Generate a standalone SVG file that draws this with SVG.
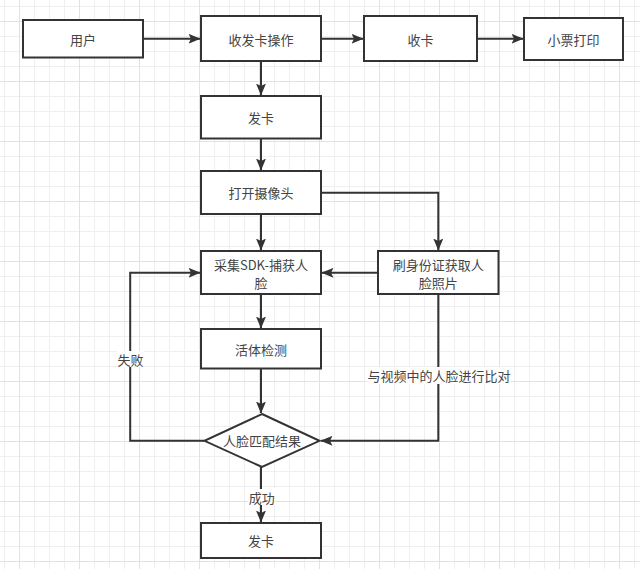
<svg xmlns="http://www.w3.org/2000/svg" width="640" height="569" viewBox="0 0 640 569">
<defs>
<pattern id="gMinor" patternUnits="userSpaceOnUse" x="4" y="6" width="15" height="15">
<path d="M0.5 0V15M0 0.5H15" stroke="#efefef" stroke-width="1" fill="none"/>
</pattern>
<pattern id="gMajor" patternUnits="userSpaceOnUse" x="19" y="21" width="60" height="60">
<path d="M0.5 0V60M0 0.5H60" stroke="#e2e2e2" stroke-width="1" fill="none"/>
</pattern>
<marker id="arr" viewBox="0 0 12 10" refX="11.5" refY="5" markerWidth="12" markerHeight="10" markerUnits="userSpaceOnUse" orient="auto">
<path d="M0 0L12 5L0 10L2.5 5Z" fill="#333"/>
</marker>
<style>
.box{fill:#fff;stroke:#333;stroke-width:2}
.t{font-family:"Microsoft YaHei","Noto Sans CJK SC","Noto Sans",sans-serif;font-size:13px;fill:#444;text-anchor:middle;dominant-baseline:central}
.c{fill:none;stroke:#333;stroke-width:2}
.lbg{fill:#fff}
</style>
</defs>
<rect x="0" y="0" width="640" height="569" fill="#fff"/>
<rect x="0" y="0" width="640" height="569" fill="url(#gMinor)"/>
<rect x="0" y="0" width="640" height="569" fill="url(#gMajor)"/>

<g id="connectors">
<path class="c" d="M143 38.8H200" marker-end="url(#arr)"/>
<path class="c" d="M321 38.8H363" marker-end="url(#arr)"/>
<path class="c" d="M477 38.8H523" marker-end="url(#arr)"/>
<path class="c" d="M261 61V95" marker-end="url(#arr)"/>
<path class="c" d="M261 138.5V170" marker-end="url(#arr)"/>
<path class="c" d="M261 214V250" marker-end="url(#arr)"/>
<path class="c" d="M321 192.8H438.3V250" marker-end="url(#arr)"/>
<path class="c" d="M378 272.8H322" marker-end="url(#arr)"/>
<path class="c" d="M261 294V328" marker-end="url(#arr)"/>
<path class="c" d="M261 368.5V413" marker-end="url(#arr)"/>
<path class="c" d="M438.3 294V440.8H321" marker-end="url(#arr)"/>
<path class="c" d="M204.5 440.8H130.2V272.8H200" marker-end="url(#arr)"/>
<path class="c" d="M261 467V522" marker-end="url(#arr)"/>
<rect class="lbg" x="117" y="351" width="27" height="16"/>
<text class="t" x="130.5" y="359">失败</text>
<rect class="lbg" x="367" y="367" width="144" height="17"/>
<text class="t" x="439" y="375.5">与视频中的人脸进行比对</text>
<rect class="lbg" x="248" y="489" width="27" height="16"/>
<text class="t" x="261.8" y="497">成功</text>
</g>

<g id="user"><rect class="box" x="23" y="20" width="120" height="37.5"/><text class="t" x="83" y="39">用户</text></g>
<g id="operate"><rect class="box" x="201" y="16" width="120" height="45"/><text class="t" x="261" y="39">收发卡操作</text></g>
<g id="receive"><rect class="box" x="364" y="16" width="113" height="45"/><text class="t" x="420.5" y="39">收卡</text></g>
<g id="print"><rect class="box" x="524" y="18" width="99" height="42"/><text class="t" x="573.5" y="39">小票打印</text></g>
<g id="issue1"><rect class="box" x="201" y="96" width="120" height="42.5"/><text class="t" x="261" y="117.5">发卡</text></g>
<g id="camera"><rect class="box" x="201" y="171" width="120" height="43"/><text class="t" x="261" y="192.5">打开摄像头</text></g>
<g id="capture"><rect class="box" x="201" y="251" width="120" height="43"/><text class="t" x="261" y="264.5">采集SDK-捕获人<tspan x="261" dy="17.5">脸</tspan></text></g>
<g id="idcard"><rect class="box" x="378" y="251" width="120.5" height="43"/><text class="t" x="438.3" y="264.5">刷身份证获取人<tspan x="438.3" dy="17.5">脸照片</tspan></text></g>
<g id="liveness"><rect class="box" x="201" y="329" width="120" height="39.5"/><text class="t" x="261" y="349">活体检测</text></g>
<g id="match"><path class="box" d="M262 414L319.5 440.8L262 467L204.5 440.8Z"/><text class="t" x="262" y="440.5">人脸匹配结果</text></g>
<g id="issue2"><rect class="box" x="201" y="523" width="120" height="35"/><text class="t" x="261" y="540.5">发卡</text></g>
</svg>
